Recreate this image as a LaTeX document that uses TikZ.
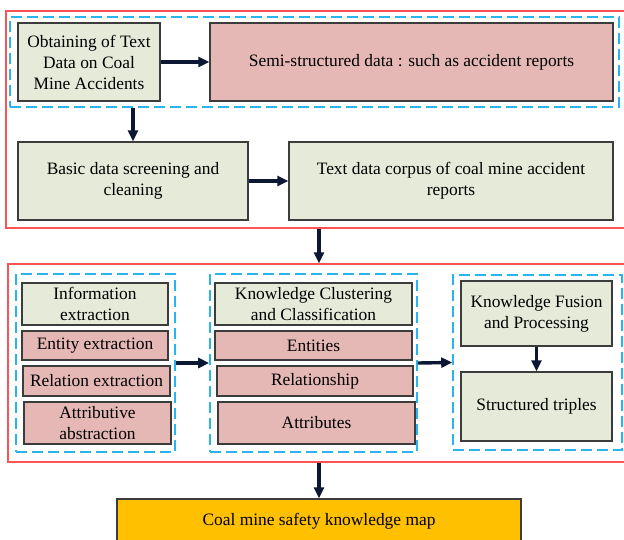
\documentclass[tikz,border=0pt]{standalone}
\usepackage{fontspec}
\setmainfont{Liberation Serif}
\usetikzlibrary{arrows.meta}
\definecolor{boxgreen}{HTML}{E6EAD9}
\definecolor{boxpink}{HTML}{E5B8B6}
\definecolor{boxorange}{HTML}{FFC000}
\definecolor{boxline}{HTML}{3C3C3C}
\definecolor{framered}{HTML}{FF5252}
\definecolor{frameblue}{HTML}{29B4EC}
\definecolor{arrowblue}{HTML}{0B1733}

\begin{document}
\begin{tikzpicture}[x=1pt,y=-1pt,
  sz/.style 2 args={minimum width=#1pt, minimum height=#2pt},
  box/.style={draw=boxline, line width=1.3pt, align=center, inner sep=0pt,
    font=\fontsize{17.4}{21}\selectfont},
  gbox/.style={box, fill=boxgreen},
  pbox/.style={box, fill=boxpink},
  redframe/.style={draw=framered, line width=1.3pt, inner sep=0pt},
  blueframe/.style={draw=frameblue, line width=1.6pt, dash pattern=on 11pt off 5pt, inner sep=0pt},
  arr/.style={draw=arrowblue, line width=3.4pt, -{Triangle[length=11pt,width=10pt]}}]
  \clip (0,0) rectangle (624,540);

  % first stage: getting the text data
  \node[redframe, sz={620}{217}] (stageA) at (316,119.5) {};
  \node[blueframe, sz={609}{90}] (grpA) at (314.5,62) {};
  \node[gbox, sz={142}{78}] (obtain) at (89,62) {Obtaining of Text\\Data on Coal\\Mine Accidents};
  \node[pbox, sz={403}{78}] (semi) at (411.5,62) {Semi-structured data : such as accident reports};
  \node[gbox, sz={230}{78}] (basic) at (133,181) {Basic data screening and\\cleaning};
  \node[gbox, sz={324}{78}] (corpus) at (451,181) {Text data corpus of coal mine accident\\reports};
  \draw[arr] (obtain.east) -- (semi.west);
  \draw[arr] (grpA.south -| basic.north) -- (basic.north);
  \draw[arr] (basic.east) -- (corpus.west);

  % second stage: knowledge extraction and fusion
  \node[redframe, sz={618}{198}] (stageB) at (317,363) {};
  \node[blueframe, sz={159}{178}] (grpL) at (95.5,363) {};
  \node[gbox, sz={146}{42}] (infoext) at (95,304) {Information\\extraction};
  \node[pbox, sz={146}{29}] (entext) at (95,345.5) {Entity extraction};
  \node[pbox, sz={147}{30}] (relext) at (96.5,381) {Relation extraction};
  \node[pbox, sz={147}{42}] (attrabs) at (97.5,423) {Attributive\\abstraction};

  \node[blueframe, sz={207}{178}] (grpM) at (313.5,363) {};
  \node[gbox, sz={197}{42}] (kcc) at (313.5,304) {Knowledge Clustering\\and Classification};
  \node[pbox, sz={197}{29}] (entities) at (313.5,345.5) {Entities};
  \node[pbox, sz={196}{30}] (relship) at (315,381) {Relationship};
  \node[pbox, sz={197}{42}] (attribs) at (316.5,423) {Attributes};

  \node[blueframe, sz={169}{175}] (grpR) at (537.5,362.5) {};
  \node[gbox, sz={151}{65}] (kfp) at (536.5,313.5) {Knowledge Fusion\\and Processing};
  \node[gbox, sz={151}{69}] (triples) at (536.5,406.5) {Structured triples};

  \draw[arr] (grpL.east) -- (grpM.west);
  \draw[arr] (grpM.east) -- (grpR.west);
  \draw[arr] (kfp.south) -- (triples.north);

  % result
  \node[box, fill=boxorange, sz={404}{44}] (kmap) at (319,521) {Coal mine safety knowledge map};
  \draw[arr] (stageA.south -| kmap.north) -- (stageB.north -| kmap.north);
  \draw[arr] (stageB.south -| kmap.north) -- (kmap.north);
\end{tikzpicture}
\end{document}
